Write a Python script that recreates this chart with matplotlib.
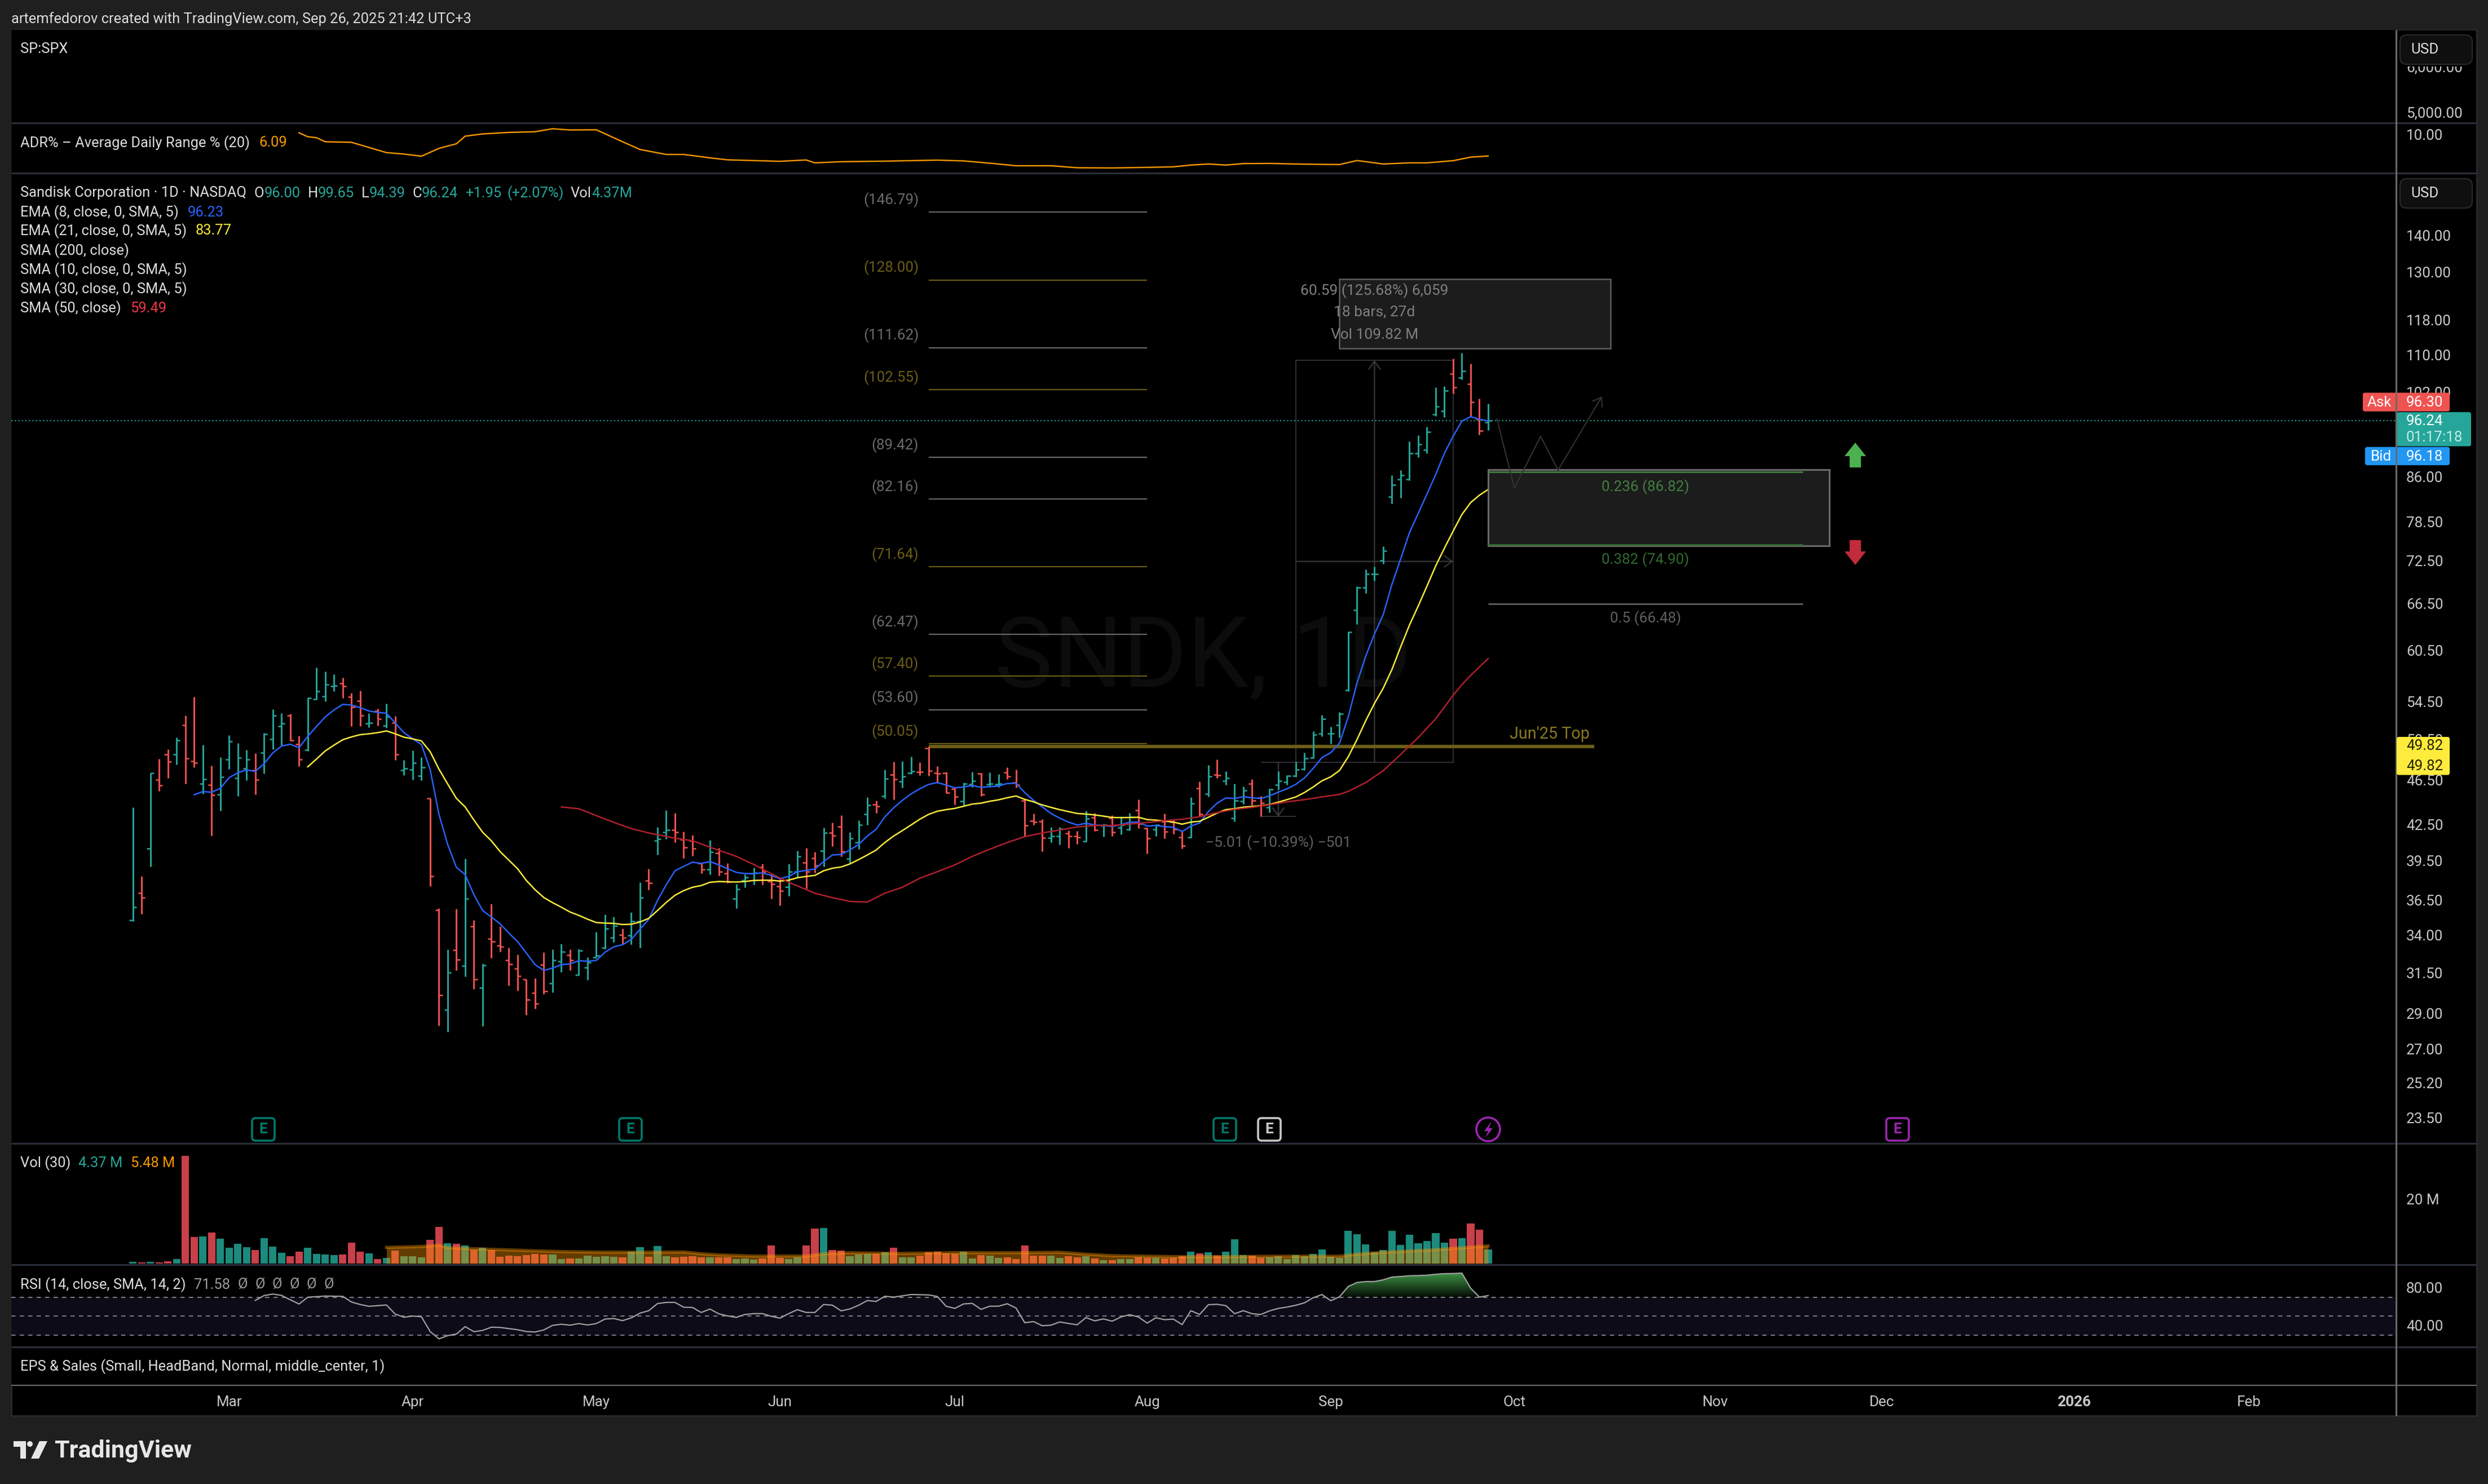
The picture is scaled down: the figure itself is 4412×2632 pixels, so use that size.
import matplotlib
matplotlib.use('Agg')
import matplotlib.pyplot as plt
import numpy as np
from matplotlib.patches import Rectangle, Polygon, FancyBboxPatch, Circle
from matplotlib.ticker import NullLocator

plt.rcParams['font.family'] = ['Roboto', 'DejaVu Sans']

W, H = 4412, 2632
FS = 18.7
LEGEND_FS = 18.35

# daily bars
opens = [35.05, 37.0, 40.50, 46.54, 49.01, 49.01, 52.01, 48.32, 46.16, 46.07,
         45.19, 48.49, 46.70, 47.60, 47.46, 49.18, 50.54, 51.89, 53.01, 50.02,
         49.44, 54.83, 55.12, 56.29, 56.55, 55.06, 54.64, 52.16, 53.50, 51.95,
         52.22, 47.46, 47.54, 46.94, 44.83, 35.77, 29.21, 32.99, 31.93, 34.62,
         30.57, 33.76, 33.30, 32.30, 31.76, 31.08, 30.24, 32.02, 30.82, 32.22,
         32.65, 31.38, 31.85, 32.49, 33.13, 33.81, 34.00, 33.97, 34.97, 37.97,
         41.14, 41.86, 42.05, 41.23, 41.15, 39.33, 38.82, 40.12, 38.53, 36.60,
         37.98, 38.50, 39.02, 37.91, 37.51, 37.48, 38.65, 39.37, 39.71, 40.30,
         41.82, 42.36, 39.68, 41.00, 43.43, 44.27, 45.03, 47.03, 46.38, 47.19,
         47.32, 49.60, 47.19, 47.19, 45.71, 44.58, 46.11, 47.14, 46.15, 46.15,
         47.26, 46.30, 44.64, 42.81, 42.78, 41.41, 41.54, 41.77, 41.52, 41.11,
         43.12, 42.43, 43.07, 42.26, 42.08, 43.75, 42.18, 42.08, 42.78, 42.73,
         41.43, 41.43, 45.75, 45.24, 47.03, 46.44, 43.07, 44.58, 46.16, 44.86,
         44.01, 46.05, 46.36, 46.9, 47.58, 48.67, 51.09, 51.09, 52.0, 55.83,
         65.66, 68.72, 70.61, 72.55, 82.5, 85.55, 85.49, 90.14, 90.78, 97.47,
         98.18, 105.89, 105.0, 103.68, 96.63, 96.00]
highs = [44.01, 38.31, 47.19, 48.58, 49.53, 50.71, 53.01, 55.06, 49.99, 47.90,
         48.75, 50.94, 50.16, 49.47, 49.13, 51.15, 53.68, 53.29, 53.17, 50.88,
         54.99, 58.43, 57.98, 57.64, 57.23, 55.51, 55.77, 53.23, 53.75, 54.31,
         52.98, 48.43, 49.41, 48.75, 44.83, 35.87, 33.03, 35.85, 39.70, 35.05,
         32.09, 36.23, 34.62, 33.15, 32.70, 31.08, 31.17, 32.82, 33.03, 33.41,
         33.03, 33.07, 32.51, 34.22, 35.46, 35.26, 34.46, 35.62, 37.80, 38.86,
         42.32, 43.79, 43.50, 41.92, 41.61, 39.37, 41.18, 40.53, 39.33, 37.68,
         38.43, 38.96, 39.28, 38.53, 38.09, 39.28, 40.34, 40.53, 40.21, 42.26,
         42.70, 43.30, 41.88, 42.88, 44.91, 44.61, 47.50, 48.26, 48.31, 48.80,
         48.20, 49.82, 47.87, 47.30, 45.84, 46.29, 47.32, 47.20, 47.26, 47.08,
         47.73, 47.50, 44.73, 43.48, 42.98, 42.31, 42.28, 42.00, 41.97, 43.70,
         43.53, 42.61, 43.32, 43.23, 43.53, 44.71, 42.23, 42.56, 43.45, 42.98,
         41.92, 44.91, 46.40, 47.93, 48.53, 47.33, 46.20, 45.93, 46.58, 45.06,
         45.71, 47.38, 47.0, 48.26, 49.18, 51.37, 53.06, 51.84, 53.38, 62.84,
         68.82, 71.24, 71.66, 74.7, 86.16, 87.13, 92.26, 93.45, 95.08, 103.04,
         103.25, 109.15, 110.46, 108.0, 100.72, 99.65]
lows = [34.95, 35.48, 39.04, 45.48, 46.70, 47.98, 46.16, 47.76, 45.26, 41.57,
        43.73, 47.57, 45.06, 46.48, 45.21, 47.13, 49.50, 49.87, 50.36, 47.82,
        49.35, 54.73, 54.54, 55.67, 54.93, 51.89, 51.89, 51.76, 51.95, 51.70,
        48.43, 46.97, 46.54, 46.48, 37.52, 28.32, 27.95, 31.65, 31.26, 30.48,
        28.26, 32.46, 32.88, 30.71, 30.37, 28.92, 29.30, 30.17, 30.28, 31.56,
        31.65, 31.34, 31.03, 32.46, 33.05, 33.51, 33.41, 33.36, 33.13, 37.26,
        40.00, 41.29, 41.01, 39.71, 39.92, 38.50, 38.43, 38.36, 37.78, 35.9,
        37.45, 37.67, 37.67, 36.61, 36.1, 36.82, 38.21, 37.35, 38.55, 39.07,
        40.68, 39.87, 39.37, 40.45, 42.51, 43.51, 44.82, 44.72, 45.79, 47.08,
        46.97, 46.92, 46.23, 45.27, 44.27, 44.18, 45.84, 45.06, 45.84, 45.84,
        46.59, 45.81, 41.46, 42.48, 40.27, 41.00, 40.81, 40.53, 40.85, 41.05,
        41.97, 41.46, 41.51, 41.69, 42.00, 42.21, 40.09, 41.54, 41.33, 41.72,
        40.50, 41.41, 43.23, 45.00, 46.71, 46.06, 42.78, 44.32, 44.20, 43.20,
        43.57, 45.64, 46.05, 46.8, 47.48, 48.6, 50.81, 50.06, 50.7, 55.71,
        63.8, 67.88, 69.66, 72.08, 81.4, 82.38, 85.31, 89.45, 90.14, 97.19,
        96.91, 101.7, 104.67, 97.05, 93.6, 94.39]
closes = [35.99, 36.68, 47.19, 46.02, 48.26, 50.42, 48.61, 48.15, 46.59, 45.16,
          46.83, 50.33, 48.69, 48.49, 46.54, 51.06, 53.01, 52.16, 50.42, 48.49,
          54.90, 55.67, 56.42, 56.35, 56.23, 53.96, 53.01, 52.22, 52.65, 52.89,
          49.01, 47.63, 48.15, 47.71, 38.29, 30.12, 31.51, 32.36, 36.60, 31.08,
          31.98, 33.57, 33.22, 32.04, 31.29, 29.83, 29.61, 30.35, 32.30, 32.88,
          32.30, 32.95, 32.17, 32.61, 34.44, 34.64, 33.83, 34.97, 36.68, 37.78,
          41.29, 42.05, 41.86, 40.59, 40.48, 38.82, 40.21, 38.65, 37.86, 37.31,
          38.21, 38.58, 38.65, 37.70, 37.17, 38.65, 39.87, 38.65, 39.15, 41.82,
          41.59, 40.27, 41.35, 42.51, 44.20, 44.12, 46.67, 46.61, 46.85, 47.37,
          47.28, 47.41, 47.15, 45.36, 44.96, 46.20, 46.43, 45.19, 46.16, 46.16,
          46.88, 46.08, 42.46, 42.73, 41.38, 41.51, 42.13, 41.54, 41.43, 43.02,
          42.05, 42.48, 41.88, 42.48, 43.15, 42.60, 41.33, 42.48, 41.91, 42.11,
          40.72, 44.35, 43.40, 46.87, 47.00, 46.71, 44.64, 45.53, 44.63, 44.40,
          45.64, 46.46, 46.9, 47.51, 48.6, 51.01, 52.67, 51.09, 53.18, 62.75,
          68.72, 70.61, 70.61, 74.02, 84.51, 86.22, 90.14, 91.76, 94.09, 99.09,
          102.27, 102.97, 106.46, 100.0, 94.34, 96.24]

# moving averages
ema8_start = 7
ema8 = [45.16, 45.45, 45.39, 45.75, 46.75, 47.22, 47.49, 47.35, 48.09, 49.15,
        49.84, 50.02, 49.67, 50.82, 51.86, 52.86, 53.62, 54.22, 54.15, 53.87,
        53.50, 53.35, 53.26, 52.22, 51.21, 50.57, 49.99, 47.52, 43.42, 40.84,
        38.99, 38.42, 36.89, 35.73, 35.26, 34.78, 34.13, 33.55, 32.78, 32.02,
        31.65, 31.80, 32.02, 32.07, 32.28, 32.24, 32.30, 32.84, 33.20, 33.34,
        33.70, 34.40, 35.11, 36.47, 37.65, 38.72,
        39.07, 39.40, 39.30, 39.45, 39.19, 38.89, 38.60, 38.50, 38.50, 38.56,
        38.36, 38.11, 38.28, 38.65, 38.75, 38.86, 39.45, 39.98, 40.02, 40.38,
        40.84, 41.54, 42.11, 43.18, 43.98, 44.65, 45.24, 45.71, 46.11, 46.29,
        46.06, 45.80, 45.88, 46.02, 45.84, 45.91, 45.97, 46.20, 46.22, 45.36,
        44.65, 44.07, 43.48, 43.07, 42.73, 42.48, 42.63, 42.48, 42.44, 42.36,
        42.51, 42.71, 42.73, 42.39, 42.44, 42.34, 42.28, 41.92, 42.39, 42.65,
        43.65, 44.40, 44.87, 44.82, 44.98, 44.89, 44.82,
        45.06, 45.40, 45.71, 46.12, 46.73, 47.65, 48.70, 49.18, 50.13, 52.87,
        56.62, 59.79, 62.52, 65.03, 69.14, 72.81, 76.75, 79.81, 82.99, 86.34,
        90.14, 93.31, 96.20, 97.05, 96.56, 96.23]
ema21_start = 20
ema21 = [47.79, 48.55, 49.35, 49.93, 50.48, 50.77, 51.00, 51.09, 51.21, 51.39,
         51.09, 50.74, 50.57, 50.36, 49.27, 47.57, 46.16, 44.83, 44.06, 42.91,
         41.86, 41.14, 40.25, 39.56, 38.88, 37.97, 37.26, 36.68, 36.30, 35.97,
         35.62, 35.38, 35.11, 34.87, 34.83, 34.81, 34.73, 34.75, 34.91, 35.17,
         35.73, 36.32, 36.85,
         37.20, 37.45, 37.58, 37.83, 37.89, 37.87, 37.85, 37.89, 37.97, 37.99,
         37.99, 37.92, 37.99, 38.18, 38.28, 38.36, 38.72, 38.92, 39.02, 39.26,
         39.61, 39.98, 40.38, 41.00, 41.54, 42.00, 42.48, 42.98, 43.40, 43.68,
         43.82, 43.93, 44.12, 44.32, 44.40, 44.57, 44.70, 44.89, 45.05, 44.74,
         44.52, 44.24, 44.02, 43.82, 43.65, 43.48, 43.43, 43.35, 43.25, 43.13,
         43.12, 43.13, 43.15, 42.95, 42.90, 42.82, 42.73, 42.55, 42.73, 42.80,
         43.15, 43.52, 43.82, 43.90, 44.04, 44.10, 44.16,
         44.28, 44.49, 44.72, 44.96, 45.37, 45.88, 46.46, 46.83, 47.44, 48.77,
         50.50, 52.47, 54.33, 56.03, 58.2, 60.93, 63.66, 66.16, 68.88, 71.76,
         74.39, 77.01, 79.63, 81.58, 82.8, 83.77]
sma50_idx = [49, 51, 53, 55, 57, 59, 62, 64, 66, 69, 71, 73, 75, 78, 80, 82, 84, 86, 88, 90,
             92, 94, 96, 98, 100, 102, 104, 106, 108, 110, 112, 114, 116, 118, 120, 122,
             124, 126, 128, 130, 132, 134, 136, 138, 139, 141, 143, 145, 147, 149, 151,
             152, 153, 155]
sma50 = [44.06, 43.9, 43.29, 42.71, 42.17, 41.8, 41.36, 41.15, 40.61, 39.87, 39.22, 38.50,
         37.83, 37.0, 36.67, 36.39, 36.35, 37.0, 37.45, 38.14, 38.65, 39.18, 39.87, 40.45,
         41.0, 41.49, 41.80, 42.05, 42.31, 42.44, 42.44, 42.56, 42.70, 42.85, 42.98, 43.20,
         43.56, 43.85, 44.02, 44.25, 44.52, 44.72, 44.96, 45.2, 45.47, 46.29, 47.41, 49.01,
         50.7, 52.67, 55.24, 56.43, 57.5, 59.49]

# volume in millions
volumes = [0.56, 0.35, 0.56, 0.35, 0.7, 1.4, 33.4, 8.24, 8.38, 9.65,
           7.68, 4.93, 6.13, 5.07, 4.23, 7.89, 5.28, 3.31, 2.25, 3.66,
           4.93, 2.96, 2.82, 2.61, 2.82, 6.48, 3.66, 3.17, 1.41, 1.76,
           4.01, 2.25, 2.25, 1.90, 7.32, 11.34, 6.27, 6.13, 5.56, 4.23,
           4.93, 4.23, 2.11, 2.46, 2.25, 2.61, 2.96, 2.82, 2.82, 1.41,
           1.55, 1.55, 2.46, 2.11, 2.25, 2.11, 1.90, 3.66, 5.07, 2.11,
           5.42, 2.25, 1.90, 2.11, 2.25, 1.90, 1.90, 1.90, 1.90, 1.41,
           1.55, 1.20, 1.55, 5.56, 1.76, 1.41, 1.90, 5.56, 10.85, 10.99,
           4.23, 4.01, 2.21, 2.73, 2.91, 2.91, 3.43, 4.83, 1.86, 1.86,
           2.38, 3.43, 3.60, 3.08, 2.91, 3.60, 1.51, 2.56, 2.38, 1.69,
           1.86, 1.34, 5.52, 2.38, 2.38, 2.38, 1.69, 2.21, 1.86, 2.21,
           1.51, 0.99, 0.99, 1.34, 1.34, 1.86, 1.69, 1.69, 1.51, 1.69,
           2.21, 3.60, 3.08, 3.43, 2.38, 3.60, 7.44, 2.56, 2.38, 1.69,
           1.86, 2.21, 1.34, 2.56, 2.21, 2.91, 4.30, 2.03, 1.69, 10.06,
           9.01, 5.87, 3.43, 4.13, 10.06, 5.70, 8.84, 6.22, 6.92, 9.36,
           6.40, 7.62, 7.79, 12.33, 10.41, 4.37]
vol_ma_idx = [29, 33, 35, 36, 39, 43, 47, 50, 54, 59, 63, 65, 67, 71, 77, 79, 81, 82, 88, 94,
              100, 106, 109, 112, 119, 125, 131, 138, 140, 143, 149, 155]
vol_ma = [5.0, 5.28, 5.70, 4.93, 4.58, 4.23, 3.87, 3.66, 3.52, 3.52, 3.59, 3.03, 2.68, 2.32,
          2.32, 3.03, 3.24, 3.31, 3.14, 3.37, 3.37, 3.49, 2.91, 2.44, 2.15, 2.15, 2.27, 2.27,
          2.91, 3.49, 4.30, 5.48]

# rsi
rsi_idx = [14, 15, 16, 17, 18, 19, 20, 22, 24, 25, 26, 27, 29, 30, 31, 32, 33, 34, 35, 36, 37,
           38, 39, 40, 41, 42, 44, 45, 46, 47, 48, 49, 50, 51, 52, 53, 54, 55, 56, 57, 58, 59,
           60, 61, 62, 63, 64, 65, 66, 67, 68, 69, 70, 71, 72, 73, 74, 75, 76, 77, 78, 79, 80,
           81, 82, 83, 84, 85, 86, 87, 88, 89, 91, 92, 93, 94, 95, 96, 97, 98, 99, 100, 101,
           102, 103, 104, 105, 106, 107, 108, 109, 110, 111, 112, 113, 114, 115, 116, 117, 118,
           119, 120, 121, 122, 123, 124, 125, 126, 127, 128, 129, 130, 131, 132, 133, 134, 135,
           136, 137, 138, 139, 140, 141, 142, 143, 144, 145, 146, 147, 148, 149, 150, 151, 152,
           153, 154, 155]
rsi = [66.5, 71.6, 73.2, 71.8, 67.2, 62.7, 69.9, 71.1, 70.8, 64.8, 62.2, 60.3, 61.7, 52.1, 48.8,
       50.0, 49.3, 33.7, 26.0, 29.4, 31.1, 38.9, 33.5, 34.9, 38.3, 38.0, 35.6, 33.7, 33.2, 35.4,
       40.2, 41.4, 40.4, 42.1, 40.6, 42.1, 46.9, 47.4, 45.2, 48.1, 53.1, 55.7, 63.2, 64.4, 64.4,
       59.3, 59.1, 53.8, 57.4, 52.4, 50.2, 48.6, 51.7, 52.6, 52.6, 49.8, 47.8, 52.6, 56.7, 53.8,
       53.8, 62.2, 61.5, 55.5, 57.5, 61.4, 66.4, 65.4, 70.9, 70.0, 71.3, 72.7, 72.3, 70.7, 60.4,
       58.1, 62.8, 63.4, 57.1, 60.4, 60.4, 63.0, 58.5, 43.0, 44.2, 39.8, 40.4, 43.8, 42.2, 40.8,
       48.4, 45.0, 47.0, 44.6, 49.0, 51.5, 49.0, 42.6, 48.2, 46.2, 46.8, 41.0, 55.7, 51.7, 62.0,
       62.4, 61.0, 52.5, 55.7, 52.5, 51.7, 55.5, 58.1, 59.5, 61.4, 64.0, 69.4, 72.7, 66.2, 70.3,
       81.2, 85.4, 86.4, 86.4, 88.2, 91.1, 91.7, 92.5, 92.7, 93.1, 94.1, 94.7, 94.9, 95.3, 79.3,
       70.0, 71.6]

# adr %
adr_idx = [19, 20, 21, 22, 25, 27, 29, 31, 33, 35, 37, 38, 40, 43, 46, 48, 50, 53, 56, 58, 61,
           63, 66, 68, 74, 77, 78, 81, 86, 92, 95, 98, 101, 105, 108, 112, 116, 119, 121, 123,
           125, 127, 130, 134, 138, 140, 143, 146, 148, 151, 153, 155]
adr = [10.46, 9.54, 9.33, 8.49, 8.38, 7.43, 6.59, 6.37, 6.06, 7.27, 8.10, 9.67, 10.19, 10.55,
       10.72, 11.50, 11.17, 11.22, 8.49, 7.09, 6.31, 6.31, 5.83, 5.57, 5.38, 5.55, 5.19, 5.33,
       5.40, 5.53, 5.43, 5.15, 4.85, 4.85, 4.63, 4.61, 4.67, 4.73, 4.93, 5.05, 4.93, 5.10, 5.12,
       5.03, 4.99, 5.48, 5.05, 5.19, 5.19, 5.46, 5.93, 6.09]

# axis ticks
price_ticks = [140, 130, 118, 110, 102, 86, 78.5, 72.5, 66.5, 60.5, 54.5, 50.5, 46.5, 42.5,
               39.5, 36.5, 34, 31.5, 29, 27, 25.2, 23.5]
month_ticks = [11, 32, 53, 74, 94, 116, 137, 158, 181, 200, 222, 242]
month_labels = ['Mar', 'Apr', 'May', 'Jun', 'Jul', 'Aug', 'Sep', 'Oct', 'Nov', 'Dec', '2026', 'Feb']

# fib extension levels on the left
fib_levels = [146.79, 128.00, 111.62, 102.55, 89.42, 82.16, 71.64, 62.47, 57.40, 53.60, 50.05]
fib_colors = ['#6a6a6a', '#6b5d16', '#6a6a6a', '#6b5d16', '#6a6a6a', '#6a6a6a', '#6b5d16',
              '#6a6a6a', '#6b5d16', '#6a6a6a', '#6b5d16']
# retracement levels on the right
ret_levels = [86.82, 74.90, 66.48]
ret_labels = ['0.236 (86.82)', '0.382 (74.90)', '0.5 (66.48)']
ret_colors = ['#43803f', '#2f6b2f', '#606060']
path_idx = [156, 158, 161, 163, 168]
path_price = [96.6, 84.0, 93.27, 87.1, 101.1]

GREEN = '#26a69a'
RED = '#ef5350'
TEXT = '#dcdcdc'
AXIS = '#c8c8c8'
BORDER = '#2a2e39'

fig = plt.figure(figsize=(W / 100, H / 100), dpi=100, facecolor='#1f1f1f')
fig.add_artist(Rectangle((20 / W, 1 - 2511 / H), 4372 / W, 2458 / H, transform=fig.transFigure,
                         facecolor='black', edgecolor='#2a2a2a', linewidth=2, zorder=-1))


def px_axes(y0, y1):
    ax = fig.add_axes([20 / W, 1 - y1 / H, 4229 / W, (y1 - y0) / H])
    ax.set_facecolor('black')
    for s in ax.spines.values():
        s.set_visible(False)
    ax.set_xlim(-13.91, 258.84)
    ax.set_xticks([])
    ax.yaxis.tick_right()
    ax.tick_params(axis='y', length=0, pad=13, labelsize=FS, labelcolor=AXIS)
    return ax


ax_spx = px_axes(53, 218)
ax_adr = px_axes(218, 307)
ax = px_axes(307, 2028)
ax_vol = px_axes(2028, 2243)
ax_rsi = px_axes(2243, 2389)
ax_eps = px_axes(2389, 2457)

# SPX pane, empty apart from the scale
ax_spx.set_yscale('log')
ax_spx.set_ylim(4790, 6946)
ax_spx.yaxis.set_minor_locator(NullLocator())
ax_spx.set_yticks([5000, 6000])
ax_spx.set_yticklabels(['5,000.00', '6,000.00'])

# ADR pane
ax_adr.set_yscale('log')
ax_adr.set_ylim(4.087, 13.17)
ax_adr.yaxis.set_minor_locator(NullLocator())
ax_adr.set_yticks([10])
ax_adr.set_yticklabels(['10.00'])
ax_adr.plot(adr_idx, adr, color='#ff9800', linewidth=1.7)

# price pane
x = np.arange(len(closes))
up = np.array(closes) >= np.array(opens)
colors = np.where(up, GREEN, RED)

ax.set_yscale('log')
ax.set_ylim(22.30, 158.9)
ax.yaxis.set_minor_locator(NullLocator())
ax.set_yticks(price_ticks)
ax.set_yticklabels([f'{t:.2f}' for t in price_ticks])

ax.text(122.4, 59.4, 'SNDK, 1D', color='#0c0c0c', fontsize=125, ha='center', va='center', zorder=0)
ax.axhline(closes[-1], color=GREEN, linewidth=1.5, linestyle=(0, (1, 2)), zorder=1)

ax.vlines(x, lows, highs, colors=colors, linewidth=2.1, zorder=2)
ax.hlines(opens, x - 0.4, x, colors=colors, linewidth=1.8, zorder=2)
ax.hlines(closes, x, x + 0.4, colors=colors, linewidth=1.8, zorder=2)

ax.plot(np.arange(ema8_start, ema8_start + len(ema8)), ema8, color='#2962ff', linewidth=1.8, zorder=3)
ax.plot(np.arange(ema21_start, ema21_start + len(ema21)), ema21, color='#ffeb3b', linewidth=1.8, zorder=3)
ax.plot(sma50_idx, sma50, color='#b2202c', linewidth=1.8, zorder=3)

# fib extension levels
for lvl, c in zip(fib_levels, fib_colors):
    ax.hlines(lvl, 91, 116, color=c, linewidth=1.5, zorder=1.5)
    ax.annotate(f'({lvl:.2f})', xy=(91, lvl), xytext=(-12.6, 15.6), textcoords='offset points',
                color=c, fontsize=FS, ha='right', va='center', zorder=1.5)

# Jun'25 top line
ax.hlines(49.82, 91, 167.1, color='#6b5d16', linewidth=4.3, zorder=1.6)
ax.annotate("Jun'25 Top", xy=(162, 49.82), xytext=(0, 15.2), textcoords='offset points',
            color='#8a7a1e', fontsize=FS + 2, ha='center', va='center', zorder=2)

# long measure box
ms_c = '#2e2e33'
ax.add_patch(Rectangle((133, 48.21), 18, 108.80 - 48.21, facecolor='none', edgecolor=ms_c,
                       linewidth=1.5, zorder=1.5))
ax.annotate('', xy=(142, 108.80), xytext=(142, 48.21), zorder=1.5,
            arrowprops=dict(arrowstyle='->,head_length=0.5,head_width=0.36', color='#3a3a40',
                            lw=1.5, shrinkA=0, shrinkB=0, mutation_scale=20))
ax.annotate('', xy=(151, 72.42), xytext=(133, 72.42), zorder=1.5,
            arrowprops=dict(arrowstyle='->,head_length=0.5,head_width=0.36', color='#3a3a40',
                            lw=1.5, shrinkA=0, shrinkB=0, mutation_scale=20))
ax.add_patch(Rectangle((138, 111.4), 31, 128.2 - 111.4, facecolor='#1c1c1c', edgecolor='#5e5e5e',
                       linewidth=1.8, zorder=2.5))
for txt, p in zip(['60.59 (125.68%) 6,059', '18 bars, 27d', 'Vol 109.82 M'], [125.3, 119.9, 114.5]):
    ax.text(142, p, txt, color='#7f7f7f', fontsize=FS + 0.3, ha='center', va='center', zorder=2.6)

# short measure
ax.hlines([48.21, 43.20], 129, 133, color=ms_c, linewidth=1.5, zorder=1.5)
ax.annotate('', xy=(131, 43.20), xytext=(131, 48.21), zorder=1.5,
            arrowprops=dict(arrowstyle='->,head_length=0.5,head_width=0.36', color='#3a3a40',
                            lw=1.5, shrinkA=0, shrinkB=0, mutation_scale=20))
ax.annotate('\u22125.01 (\u221210.39%) \u2212501', xy=(131, 43.20), xytext=(0, -33),
            textcoords='offset points', color='#5f5f5f', fontsize=FS + 0.3, ha='center', va='center')

# retracement box and levels
ax.add_patch(Rectangle((155, 74.76), 39, 87.23 - 74.76, facecolor='#1c1c1c', edgecolor='#6a6a6a',
                       linewidth=2.2, zorder=4))
for lvl, lab, c in zip(ret_levels, ret_labels, ret_colors):
    ax.hlines(lvl, 155, 191, color=c, linewidth=2.0, zorder=5)
    ax.annotate(lab, xy=(173, lvl), xytext=(0, -19), textcoords='offset points', color=c,
                fontsize=FS, ha='center', va='center', zorder=5)

# hand drawn path
ax.plot(path_idx[:-1], path_price[:-1], color='#333333', linewidth=1.5, zorder=5)
ax.annotate('', xy=(path_idx[-1], path_price[-1]), xytext=(path_idx[-2], path_price[-2]), zorder=5,
            arrowprops=dict(arrowstyle='->,head_length=0.5,head_width=0.36', color='#333333',
                            lw=1.5, shrinkA=0, shrinkB=0, mutation_scale=20))

# volume pane
ax_vol.set_ylim(-0.35, 37.2)
ax_vol.bar(x, volumes, width=0.85, color=np.where(up, '#1c8a7c', '#c8404a'), zorder=2)
ax_vol.fill_between(vol_ma_idx, 0, vol_ma, color='#ff9800', alpha=0.4, linewidth=0, zorder=3)
ax_vol.plot(vol_ma_idx, vol_ma, color='#ff9800', alpha=0.4, linewidth=4, zorder=3)
ax_vol.set_yticks([20])
ax_vol.set_yticklabels(['20 M'])

# rsi pane
ax_rsi.set_ylim(17.4, 104.2)
ax_rsi.axhspan(30, 70, color='#0d0b17', zorder=1)
for lvl in [70, 50, 30]:
    ax_rsi.axhline(lvl, color='#787b86', linewidth=1.5, linestyle=(0, (3.6, 3.6)), zorder=1.5)
rsi_x = np.array(rsi_idx)
rsi_y = np.array(rsi)
mask = (rsi_x >= 137) & (rsi_x <= 154)
verts = [(137, 70)] + list(zip(rsi_x[mask], rsi_y[mask])) + [(154, 70)]
clip = Polygon(verts, transform=ax_rsi.transData, facecolor='none', edgecolor='none')
ax_rsi.add_patch(clip)
grad = np.zeros((64, 1, 4))
grad[:, 0, 0] = 0.24
grad[:, 0, 1] = 0.58
grad[:, 0, 2] = 0.27
grad[:, 0, 3] = np.linspace(1, 0.08, 64)
im = ax_rsi.imshow(grad, extent=[137, 154, 70, 96], aspect='auto', origin='upper', zorder=2)
im.set_clip_path(clip)
ax_rsi.set_xlim(-13.91, 258.84)
ax_rsi.set_ylim(17.4, 104.2)
ax_rsi.plot(rsi_idx, rsi, color='#a0a0a0', linewidth=1.6, zorder=3)
ax_rsi.set_yticks([80, 40])
ax_rsi.set_yticklabels(['80.00', '40.00'])

# time axis
ax_eps.set_yticks([])
ax_eps.set_xticks(month_ticks)
ax_eps.set_xticklabels(month_labels)
ax_eps.tick_params(axis='x', length=0, pad=13, labelsize=FS, labelcolor=AXIS)
for lab in ax_eps.get_xticklabels():
    if lab.get_text() == '2026':
        lab.set_fontweight('bold')

# overlay in pixels for everything that is chrome rather than data
ui = fig.add_axes([0, 0, 1, 1], zorder=10)
ui.set_xlim(0, W)
ui.set_ylim(H, 0)
ui.axis('off')

for yy in [218, 307, 2028, 2243, 2389]:
    ui.plot([20, 4392], [yy, yy], color=BORDER, linewidth=2.2, solid_capstyle='butt')
ui.plot([20, 4392], [2457, 2457], color='#6a6a6a', linewidth=1.5, solid_capstyle='butt')
ui.plot([4249, 4249], [53, 2511], color='#6a6a6a', linewidth=2.2, solid_capstyle='butt')


def text_run(x0, y, parts, size=LEGEND_FS):
    r = fig.canvas.get_renderer()
    pos = x0
    for s, c, gap in parts:
        t = ui.text(pos, y + 1.5, s, color=c, fontsize=size, ha='left', va='center')
        pos = t.get_window_extent(r).x1 + gap


text_run(20, 32, [('artemfedorov created with TradingView.com, Sep 26, 2025 21:42 UTC+3', TEXT, 0)])
text_run(36, 86, [('SP:SPX', TEXT, 0)])
text_run(36, 252, [('ADR% \u2013 Average Daily Range % (20)', TEXT, 16), ('6.09', '#ff9800', 0)])
text_run(36, 341, [('Sandisk Corporation \u00b7 1D \u00b7 NASDAQ', TEXT, 14),
                   ('O', TEXT, 0), ('96.00', GREEN, 13),
                   ('H', TEXT, 0), ('99.65', GREEN, 13),
                   ('L', TEXT, 0), ('94.39', GREEN, 13),
                   ('C', TEXT, 0), ('96.24', GREEN, 13),
                   ('+1.95', GREEN, 10), ('(+2.07%)', GREEN, 12),
                   ('Vol', TEXT, 0), ('4.37M', GREEN, 0)])
text_run(36, 375, [('EMA (8, close, 0, SMA, 5)', TEXT, 16), ('96.23', '#2962ff', 0)])
text_run(36, 408, [('EMA (21, close, 0, SMA, 5)', TEXT, 16), ('83.77', '#ffeb3b', 0)])
text_run(36, 443, [('SMA (200, close)', TEXT, 0)])
text_run(36, 477, [('SMA (10, close, 0, SMA, 5)', TEXT, 0)])
text_run(36, 511, [('SMA (30, close, 0, SMA, 5)', TEXT, 0)])
text_run(36, 545, [('SMA (50, close)', TEXT, 16), ('59.49', '#f23645', 0)])
text_run(36, 2061, [('Vol (30)', TEXT, 14), ('4.37 M', GREEN, 14), ('5.48 M', '#ff9800', 0)])
text_run(36, 2277, [('RSI (14, close, SMA, 14, 2)', TEXT, 14), ('71.58', '#9a9a9a', 14)]
         + [('\u00d8', '#9a9a9a', 13)] * 6)
text_run(36, 2422, [('EPS & Sales (Small, HeadBand, Normal, middle_center, 1)', TEXT, 0)])

# the 6,000.00 label sits half under the scale header
ui.add_patch(Rectangle((4251, 54), 139, 64, facecolor='black', edgecolor='none', zorder=4))

# USD buttons
for y0 in [62, 317]:
    ui.add_patch(FancyBboxPatch((4256, y0), 128, 52, boxstyle='round,pad=0,rounding_size=12',
                                facecolor='#0f0f0f', edgecolor='#2a2a2e', linewidth=1.5, zorder=5))
    ui.text(4275, y0 + 26, 'USD', color=TEXT, fontsize=FS, ha='left', va='center', zorder=6)


def tag(x0, x1, y0, y1, color):
    ui.add_patch(FancyBboxPatch((x0, y0), x1 - x0, y1 - y0, boxstyle='round,pad=0,rounding_size=4',
                                facecolor=color, edgecolor='none', zorder=5))


# price tags
tag(4190, 4344, 696.5, 729.6, RED)
ui.text(4219, 714, 'Ask', color='white', fontsize=FS, ha='center', va='center', zorder=6)
ui.text(4267, 714, '96.30', color='white', fontsize=FS, ha='left', va='center', zorder=6)
tag(4194, 4344, 792.7, 825, '#2196f3')
ui.text(4222, 810, 'Bid', color='white', fontsize=FS, ha='center', va='center', zorder=6)
ui.text(4267, 810, '96.18', color='white', fontsize=FS, ha='left', va='center', zorder=6)
tag(4250, 4382, 731, 791.5, GREEN)
ui.text(4267, 747, '96.24', color='white', fontsize=FS, ha='left', va='center', zorder=6)
ui.text(4267, 776, '01:17:18', color='#c5ebe7', fontsize=FS, ha='left', va='center', zorder=6)
ui.plot([4249, 4249], [696.5, 825], color='#6a6a6a', linewidth=2.2, solid_capstyle='butt', zorder=6)
tag(4250, 4344, 1307, 1374.5, '#ffeb3b')
ui.text(4267, 1323, '49.82', color='#222200', fontsize=FS, ha='left', va='center', zorder=6)
ui.text(4267, 1358.5, '49.82', color='#222200', fontsize=FS, ha='left', va='center', zorder=6)

# up and down arrows beside the box
ui.add_patch(Polygon([(3290, 785), (3309, 809), (3300, 809), (3300, 829), (3280, 829), (3280, 809),
                      (3271, 809)], facecolor='#4caf50', edgecolor='none'))
ui.add_patch(Polygon([(3290, 1002), (3309, 978), (3300, 978), (3300, 958), (3280, 958), (3280, 978),
                      (3271, 978)], facecolor='#c12b3b', edgecolor='none'))

# event icons on the time line
for cx, c in [(467, '#00796b'), (1118, '#00796b'), (2172, '#00796b'), (2251, '#c8c8c8'), (3365, '#9c27b0')]:
    ui.add_patch(FancyBboxPatch((cx - 20, 1983), 40, 40, boxstyle='round,pad=0,rounding_size=6',
                                facecolor='black', edgecolor=c, linewidth=2.6))
    ui.text(cx, 2003, 'E', color=c, fontsize=19, fontweight='bold', ha='center', va='center')
ui.add_patch(Circle((2639, 2003), 21, facecolor='black', edgecolor='#9c27b0', linewidth=2.6))
ui.add_patch(Polygon([(2645, 1989), (2632, 2006), (2639, 2006), (2634, 2018), (2647, 2001), (2640, 2001)],
                     facecolor='#9c27b0', edgecolor='none'))

# TradingView logo
ui.add_patch(Polygon([(24, 2556), (46, 2556), (46, 2587), (36, 2587), (36, 2566), (24, 2566)],
                     facecolor='#e6e6e6', edgecolor='none'))
ui.add_patch(Circle((53, 2561), 5, facecolor='#e6e6e6', edgecolor='none'))
ui.add_patch(Polygon([(70, 2556), (84, 2556), (69, 2587), (55, 2587)], facecolor='#e6e6e6', edgecolor='none'))
ui.text(96, 2573, 'TradingView', color='#e6e6e6', fontsize=31, fontweight='bold', ha='left', va='center')

fig.savefig('out.png', dpi=100, facecolor=fig.get_facecolor())
